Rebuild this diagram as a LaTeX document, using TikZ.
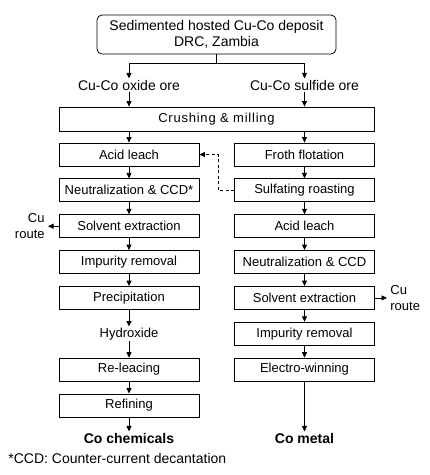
\documentclass[tikz,border=0pt]{standalone}
\usepackage{fontspec}
\setmainfont{Liberation Sans}
\usetikzlibrary{arrows.meta}

\tikzset{
  box/.style={draw, minimum width=140, minimum height=23, inner sep=0pt, font=\fontsize{13}{15}\selectfont},
  txt/.style={inner sep=1pt, font=\fontsize{13}{16}\selectfont},
  oretxt/.style={inner sep=1pt, font=\fontsize{14}{16}\selectfont},
  endtxt/.style={inner sep=1pt, font=\fontsize{14}{16}\selectfont\bfseries},
  arr/.style={-{Triangle[length=5.5pt,width=5pt]}},
  dasharr/.style={arr, dashed, dash pattern=on 3pt off 2.5pt}
}

\begin{document}
\begin{tikzpicture}[x=1pt,y=-1pt,line width=0.8pt]
 \useasboundingbox (0,0) rectangle (430,475);
 % source and ores
 \node[box, rounded corners=5pt, minimum width=239, minimum height=39, align=center, font=\fontsize{14}{16}\selectfont] (src) at (216.5,34.5) {Sedimented hosted Cu-Co deposit\\DRC, Zambia};
 \node[oretxt] (oxide) at (129,85) {Cu-Co oxide ore};
 \node[oretxt] (sulfide) at (304.5,85) {Cu-Co sulfide ore};
 \node[box, minimum width=315, minimum height=24, font=\fontsize{13}{15}\selectfont\addfontfeature{LetterSpace=6}] (crush) at (216.5,119) {Crushing \& milling};
 % oxide route
 \node[box] (leachA) at (129,154.5) {Acid leach};
 \node[box] (neutA) at (129,190.3) {Neutralization \& CCD*};
 \node[box] (sxA) at (129,226.2) {Solvent extraction};
 \node[box] (impA) at (129,262) {Impurity removal};
 \node[box] (prec) at (129,297.9) {Precipitation};
 \node[txt] (hydro) at (129,334) {Hydroxide};
 \node[box] (relch) at (129,369.6) {Re-leacing};
 \node[box] (refin) at (129,405.4) {Refining};
 \node[endtxt] (chem) at (129,438) {Co chemicals};
 % sulfide route
 \node[box] (flot) at (304.5,154.5) {Froth flotation};
 \node[box] (roast) at (304.5,190.3) {Sulfating roasting};
 \node[box] (leachB) at (304.5,226.2) {Acid leach};
 \node[box] (neutB) at (304.5,262) {Neutralization \& CCD};
 \node[box] (sxB) at (304.5,297.9) {Solvent extraction};
 \node[box] (impB) at (304.5,333.7) {Impurity removal};
 \node[box] (ew) at (304.5,369.6) {Electro-winning};
 \node[endtxt] (metal) at (304.5,438) {Co metal};
 % Cu routes
 \coordinate (cuAend) at (48,226.2);
 \coordinate (cuBend) at (387,297.9);
 \node[txt, anchor=east, align=right] (cuA) at (46,226.2) {Cu\\route};
 \node[txt, anchor=west, align=left] (cuB) at (389,297.9) {Cu\\route};
 \node[txt, anchor=west, font=\fontsize{14}{16}\selectfont] (note) at (7,458) {*CCD: Counter-current decantation};

 % connectors
 \draw (src.south) -- ++(0,9) coordinate (split);
 \draw[arr] (split) -| (oxide.north);
 \draw[arr] (split) -| (sulfide.north);
 \draw[arr] (oxide.south) -- (oxide.south |- crush.north);
 \draw[arr] (sulfide.south) -- (sulfide.south |- crush.north);
 \draw[arr] (crush.south -| leachA) -- (leachA);
 \draw[arr] (crush.south -| flot) -- (flot);
 \draw[arr] (leachA) -- (neutA);
 \draw[arr] (neutA) -- (sxA);
 \draw[arr] (sxA) -- (impA);
 \draw[arr] (impA) -- (prec);
 \draw[arr] (prec) -- (hydro);
 \draw[arr] (hydro) -- (relch);
 \draw[arr] (relch) -- (refin);
 \draw[arr] (refin) -- (chem);
 \draw[arr] (flot) -- (roast);
 \draw[arr] (roast) -- (leachB);
 \draw[arr] (leachB) -- (neutB);
 \draw[arr] (neutB) -- (sxB);
 \draw[arr] (sxB) -- (impB);
 \draw[arr] (impB) -- (ew);
 \draw[arr] (ew) -- (metal);
 \draw[dasharr] (roast.west) -- ++(-16,0) |- (leachA.east);
 \draw[arr] (sxA.west) -- (cuAend);
 \draw[arr] (sxB.east) -- (cuBend);
\end{tikzpicture}
\end{document}
